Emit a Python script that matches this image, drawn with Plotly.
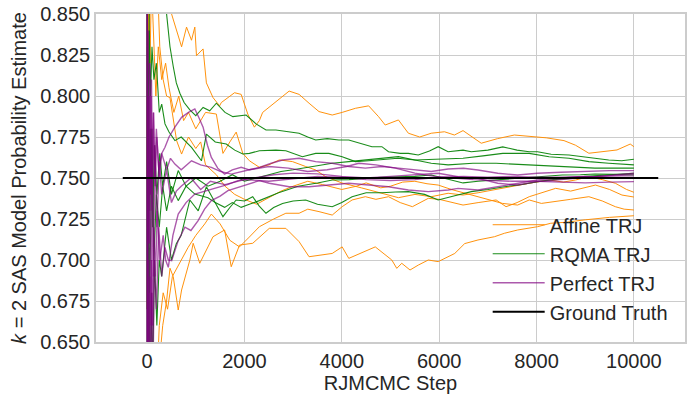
import plotly.graph_objects as go

# ---------------- data ----------------
# Affine TRJ runs
affine_1_steps = [1, 4, 10, 20, 40, 70, 100, 150, 200, 300, 400, 500, 606, 708, 810, 912, 980, 1014, 1150, 1218, 1354, 1490, 1524, 1796, 1932, 2068, 2204, 2306, 2374, 2578, 2918, 3122, 3258, 3327, 3531, 3803, 4007, 4279, 4551, 4755, 4891, 5163, 5367, 5600, 5837, 6109, 6313, 6490, 6864, 7200, 7544, 7884, 8200, 8564, 8800, 9075, 9350, 9653, 9925, 10000]
affine_1_vals = [1.0, 0.75, 0.9, 0.95, 0.875, 0.914, 0.88, 0.9, 0.87, 0.885, 0.86, 0.85, 0.841, 0.830, 0.842, 0.834, 0.842, 0.8246, 0.8287, 0.808, 0.799, 0.794, 0.796, 0.802, 0.801, 0.789, 0.781, 0.785, 0.790, 0.795, 0.803, 0.801, 0.797, 0.7956, 0.7905, 0.7884, 0.790, 0.7925, 0.794, 0.7874, 0.7823, 0.7854, 0.7773, 0.775, 0.7773, 0.7782, 0.7762, 0.7789, 0.7712, 0.774, 0.7762, 0.7752, 0.7745, 0.7728, 0.770, 0.7651, 0.766, 0.7671, 0.7707, 0.7691]

affine_2_steps = [1, 4, 9, 18, 35, 60, 90, 130, 180, 230, 300, 380, 450, 550, 650, 750, 850, 1000, 1200, 1422, 1558, 1700, 1830, 1966, 2102, 2306, 2500, 2714, 2986, 3258, 3463, 3667, 4000, 4400, 4800, 5163, 5503, 5837, 6184, 6490, 6800, 7102, 7500, 7850, 8258, 8550, 8803, 9075, 9350, 9619, 9850, 10000]
affine_2_vals = [0.0, 0.5, 0.78, 0.72, 0.86, 0.82, 0.87, 0.84, 0.80, 0.83, 0.81, 0.82, 0.805, 0.79, 0.80, 0.785, 0.79, 0.78, 0.79, 0.789, 0.765, 0.772, 0.778, 0.765, 0.7605, 0.7565, 0.758, 0.761, 0.760, 0.757, 0.7549, 0.7508, 0.747, 0.744, 0.741, 0.738, 0.740, 0.7386, 0.7407, 0.7396, 0.741, 0.7427, 0.745, 0.7468, 0.7488, 0.7475, 0.7488, 0.7508, 0.749, 0.7468, 0.743, 0.7413]

affine_3_steps = [1, 4, 10, 20, 35, 60, 90, 130, 180, 250, 330, 420, 520, 700, 843, 1000, 1184, 1320, 1500, 1700, 1898, 2100, 2306, 2600, 2850, 3122, 3300, 3531, 3803, 4007, 4211, 4483, 4700, 4959, 5200, 5450, 5776, 6000, 6250, 6490, 6800, 7170, 7374, 7600, 7850, 8100, 8394, 8700, 8939, 9211, 9500, 9755, 10000]
affine_3_vals = [0.0, 0.25, 0.4, 0.55, 0.5, 0.6, 0.58, 0.63, 0.61, 0.66, 0.68, 0.67, 0.69, 0.70, 0.7077, 0.715, 0.722, 0.728, 0.722, 0.712, 0.708, 0.714, 0.7203, 0.725, 0.7285, 0.7285, 0.731, 0.7295, 0.7274, 0.7325, 0.7366, 0.7386, 0.737, 0.7386, 0.735, 0.7325, 0.7376, 0.737, 0.735, 0.7335, 0.735, 0.7366, 0.7325, 0.735, 0.7386, 0.741, 0.7437, 0.742, 0.7437, 0.7457, 0.743, 0.7396, 0.7384]

affine_4_steps = [1, 3, 8, 15, 30, 50, 80, 110, 150, 200, 260, 330, 400, 469, 606, 708, 850, 1000, 1100, 1200, 1422, 1600, 1800, 2000, 2250, 2500, 2750, 3000, 3300, 3600, 4000, 4300, 4500, 4800, 5000, 5250, 5500, 5750, 5980, 6250, 6500, 6750, 7000, 7300, 7612, 7850, 8100, 8394, 8700, 9075, 9350, 9619, 9800, 10000]
affine_4_vals = [1.0, 0.67, 0.88, 0.8, 0.9, 0.86, 0.95, 0.9, 0.86, 0.88, 0.83, 0.81, 0.80, 0.799, 0.7728, 0.7646, 0.775, 0.768, 0.772, 0.758, 0.752, 0.745, 0.740, 0.737, 0.734, 0.738, 0.742, 0.745, 0.748, 0.746, 0.743, 0.745, 0.747, 0.744, 0.745, 0.7475, 0.748, 0.7465, 0.7457, 0.743, 0.741, 0.739, 0.737, 0.7345, 0.7335, 0.7366, 0.7345, 0.7355, 0.737, 0.7386, 0.736, 0.7325, 0.731, 0.7305]

affine_5_steps = [1, 3, 7, 15, 30, 50, 80, 110, 150, 200, 260, 320, 400, 470, 537, 639, 708, 878, 946, 1082, 1354, 1592, 1728, 1898, 2170, 2510, 2850, 3122, 3327, 3803, 4007, 4143, 4551, 4687, 5027, 5129, 5231, 5401, 5571, 5776, 5980, 6116, 6320, 6524, 6796, 7136, 7340, 7612, 8020, 8292, 8600, 9000, 9500, 10000]
affine_5_vals = [0.0, 0.33, 0.14, 0.4, 0.45, 0.5, 0.58, 0.55, 0.6, 0.62, 0.64, 0.66, 0.675, 0.695, 0.6898, 0.6695, 0.6817, 0.700, 0.7102, 0.698, 0.7142, 0.7183, 0.6959, 0.7091, 0.7102, 0.7193, 0.7193, 0.7112, 0.702, 0.704, 0.708, 0.701, 0.706, 0.708, 0.700, 0.6949, 0.698, 0.6939, 0.6969, 0.700, 0.699, 0.701, 0.704, 0.710, 0.7122, 0.7142, 0.7163, 0.7183, 0.7203, 0.7224, 0.723, 0.7245, 0.726, 0.727]

# RQMA TRJ runs
rqma_1_steps = [1, 3, 8, 15, 30, 60, 100, 150, 200, 260, 330, 400, 470, 537, 600, 673, 760, 878, 1000, 1150, 1286, 1422, 1600, 1762, 2034, 2238, 2442, 2646, 2900, 3122, 3300, 3463, 3700, 3939, 4143, 4400, 4619, 4823, 4959, 5200, 5367, 5571, 5800, 5980, 6184, 6490, 6660, 7000, 7306, 7600, 7850, 8020, 8300, 8667, 9075, 9483, 9750, 10000]
rqma_1_vals = [1.0, 0.67, 0.875, 0.93, 0.9, 0.92, 0.89, 0.9, 0.88, 0.87, 0.86, 0.85, 0.83, 0.818, 0.808, 0.8017, 0.796, 0.7915, 0.788, 0.793, 0.791, 0.7956, 0.790, 0.7874, 0.7884, 0.783, 0.7793, 0.7793, 0.778, 0.7773, 0.775, 0.7732, 0.774, 0.7732, 0.7732, 0.771, 0.7691, 0.7691, 0.766, 0.765, 0.765, 0.764, 0.7665, 0.7691, 0.766, 0.767, 0.766, 0.767, 0.769, 0.767, 0.766, 0.766, 0.7645, 0.764, 0.7625, 0.761, 0.7605, 0.7614]

rqma_2_steps = [1, 3, 6, 12, 25, 45, 70, 100, 140, 190, 250, 300, 367, 450, 571, 700, 912, 1116, 1218, 1400, 1626, 1800, 1966, 2102, 2306, 2646, 2850, 3190, 3463, 3735, 4007, 4279, 4550, 4823, 5150, 5503, 5850, 6184, 6490, 6900, 7306, 7850, 8258, 8667, 9075, 9483, 9750, 10000]
rqma_2_vals = [0.0, 0.33, 0.5, 0.67, 0.8, 0.84, 0.8, 0.83, 0.81, 0.82, 0.79, 0.795, 0.783, 0.778, 0.7728, 0.775, 0.7687, 0.7605, 0.7768, 0.772, 0.7707, 0.767, 0.7646, 0.765, 0.7666, 0.767, 0.7666, 0.763, 0.765, 0.765, 0.763, 0.760, 0.7605, 0.761, 0.762, 0.761, 0.7615, 0.762, 0.762, 0.7635, 0.765, 0.765, 0.763, 0.762, 0.760, 0.759, 0.7585, 0.758]

rqma_3_steps = [1, 2, 4, 7, 12, 20, 35, 55, 80, 110, 150, 200, 260, 320, 400, 500, 639, 800, 1000, 1250, 1500, 1750, 2000, 2250, 2500, 2750, 3000, 3400, 3803, 4143, 4483, 4823, 5163, 5503, 5837, 6184, 6694, 7170, 7850, 8530, 9200, 10000]
rqma_3_vals = [1.0, 0.5, 0.75, 0.57, 0.75, 0.7, 0.8, 0.73, 0.78, 0.72, 0.77, 0.74, 0.765, 0.745, 0.76, 0.74, 0.7545, 0.745, 0.75, 0.745, 0.748, 0.752, 0.748, 0.75, 0.752, 0.754, 0.755, 0.757, 0.759, 0.760, 0.761, 0.762, 0.763, 0.761, 0.759, 0.758, 0.759, 0.759, 0.758, 0.757, 0.756, 0.756]

rqma_4_steps = [1, 3, 6, 10, 18, 30, 50, 75, 100, 140, 190, 250, 320, 400, 500, 639, 800, 980, 1250, 1400, 1592, 1750, 1932, 2100, 2306, 2700, 3100, 3500, 3803, 4150, 4483, 4800, 5163, 5500, 5837, 6100, 6490, 6800, 7170, 7500, 7850, 8200, 8530, 8900, 9200, 9600, 10000]
rqma_4_vals = [0.0, 0.67, 0.83, 0.7, 0.61, 0.77, 0.68, 0.72, 0.78, 0.7, 0.74, 0.72, 0.745, 0.73, 0.745, 0.7362, 0.745, 0.7402, 0.738, 0.735, 0.7321, 0.735, 0.7321, 0.734, 0.7362, 0.741, 0.745, 0.747, 0.7488, 0.749, 0.7498, 0.7505, 0.7508, 0.751, 0.7518, 0.750, 0.747, 0.748, 0.7488, 0.7495, 0.7504, 0.751, 0.7518, 0.752, 0.7524, 0.7522, 0.7518]

rqma_5_steps = [1, 2, 4, 8, 14, 25, 40, 60, 85, 115, 150, 200, 250, 300, 400, 500, 600, 700, 878, 1050, 1218, 1400, 1558, 1700, 1830, 2000, 2170, 2300, 2442, 2600, 2782, 3000, 3258, 3500, 3803, 4000, 4211, 4500, 4823, 5100, 5367, 5700, 5980, 6300, 6660, 7000, 7340, 7700, 8020, 8350, 8700, 9000, 9380, 9700, 10000]
rqma_5_vals = [0.0, 0.5, 0.25, 0.5, 0.64, 0.56, 0.7, 0.6, 0.68, 0.63, 0.7, 0.66, 0.7, 0.69, 0.72, 0.70, 0.71, 0.715, 0.7366, 0.73, 0.7447, 0.735, 0.7264, 0.732, 0.7366, 0.736, 0.7386, 0.733, 0.7285, 0.732, 0.7345, 0.736, 0.7366, 0.734, 0.7325, 0.735, 0.7386, 0.741, 0.741, 0.7415, 0.7417, 0.740, 0.7366, 0.739, 0.7417, 0.743, 0.7447, 0.746, 0.7478, 0.749, 0.7498, 0.751, 0.7518, 0.7522, 0.7529]

# Perfect TRJ runs
perfect_1_steps = [1, 2, 3, 5, 8, 12, 18, 25, 35, 50, 65, 80, 100, 125, 150, 190, 240, 300, 367, 450, 571, 708, 850, 980, 1060, 1150, 1240, 1320, 1450, 1592, 1750, 1932, 2100, 2306, 2550, 2782, 3122, 3463, 3803, 4143, 4483, 4823, 5163, 5503, 5837, 6184, 6500, 6796, 7204, 7612, 8020, 8500, 9000, 9500, 10000]
perfect_1_vals = [1.0, 0.5, 0.67, 0.8, 0.62, 0.83, 0.72, 0.84, 0.71, 0.82, 0.74, 0.8, 0.73, 0.79, 0.75, 0.78, 0.755, 0.765, 0.7687, 0.775, 0.781, 0.787, 0.79, 0.7921, 0.787, 0.781, 0.77, 0.7626, 0.756, 0.7524, 0.755, 0.7565, 0.755, 0.7565, 0.759, 0.761, 0.762, 0.760, 0.759, 0.757, 0.756, 0.757, 0.756, 0.755, 0.754, 0.7555, 0.7559, 0.7549, 0.7529, 0.7518, 0.7529, 0.7535, 0.754, 0.7545, 0.7545]

perfect_2_steps = [1, 2, 3, 5, 8, 12, 18, 25, 35, 50, 65, 80, 100, 125, 150, 190, 240, 300, 367, 435, 504, 570, 639, 776, 900, 1048, 1180, 1320, 1500, 1660, 1850, 2068, 2306, 2510, 2918, 3327, 3735, 4143, 4551, 4959, 5367, 5776, 6184, 6388, 6796, 7204, 7612, 8020, 8428, 8837, 9245, 9653, 10000]
perfect_2_vals = [0.0, 0.5, 0.33, 0.2, 0.5, 0.33, 0.56, 0.44, 0.6, 0.52, 0.65, 0.6, 0.68, 0.64, 0.7, 0.67, 0.72, 0.69, 0.7077, 0.70, 0.6996, 0.706, 0.7118, 0.72, 0.718, 0.724, 0.731, 0.7362, 0.739, 0.7423, 0.744, 0.7463, 0.7484, 0.7468, 0.7447, 0.7447, 0.7457, 0.7468, 0.7457, 0.7447, 0.7427, 0.7417, 0.7427, 0.7437, 0.7427, 0.7447, 0.7468, 0.7488, 0.7498, 0.7508, 0.751, 0.7515, 0.752]

perfect_3_steps = [1, 2, 3, 4, 6, 9, 14, 20, 28, 40, 55, 70, 90, 115, 140, 170, 210, 260, 330, 380, 435, 530, 639, 800, 980, 1200, 1456, 1650, 1864, 2200, 2600, 3000, 3500, 4000, 4500, 5000, 5500, 5980, 6388, 6796, 7204, 7612, 8020, 8428, 8837, 9245, 9653, 10000]
perfect_3_vals = [1.0, 1.0, 0.67, 0.5, 0.67, 0.44, 0.64, 0.5, 0.68, 0.58, 0.69, 0.63, 0.7, 0.66, 0.72, 0.69, 0.73, 0.70, 0.715, 0.70, 0.6955, 0.715, 0.728, 0.735, 0.7402, 0.742, 0.7443, 0.746, 0.7484, 0.750, 0.752, 0.753, 0.7525, 0.751, 0.750, 0.751, 0.752, 0.7529, 0.7508, 0.7498, 0.7468, 0.7457, 0.7478, 0.7488, 0.7498, 0.7508, 0.7518, 0.7529]

perfect_4_steps = [1, 2, 3, 5, 7, 10, 15, 22, 30, 42, 56, 72, 90, 110, 135, 165, 200, 250, 300, 400, 480, 571, 700, 912, 1100, 1320, 1500, 1728, 2100, 2500, 2900, 3300, 3700, 4100, 4350, 4700, 5100, 5500, 5900, 6300, 6700, 7100, 7500, 8000, 8500, 9000, 9500, 10000]
perfect_4_vals = [0.0, 0.0, 0.33, 0.6, 0.71, 0.6, 0.8, 0.68, 0.8, 0.71, 0.82, 0.74, 0.81, 0.75, 0.79, 0.745, 0.775, 0.75, 0.765, 0.755, 0.762, 0.7585, 0.755, 0.7605, 0.758, 0.7565, 0.754, 0.7524, 0.755, 0.757, 0.756, 0.754, 0.755, 0.757, 0.759, 0.758, 0.756, 0.753, 0.751, 0.750, 0.749, 0.7485, 0.748, 0.748, 0.7475, 0.747, 0.7475, 0.7478]

perfect_5_steps = [1, 2, 3, 4, 6, 9, 13, 19, 27, 37, 50, 65, 85, 105, 130, 160, 200, 250, 300, 400, 500, 600, 700, 900, 1100, 1300, 1600, 2000, 2500, 3000, 3500, 4000, 4500, 5000, 5500, 6000, 6500, 7000, 7500, 8000, 8500, 9000, 9500, 10000]
perfect_5_vals = [1.0, 0.5, 0.33, 0.25, 0.5, 0.67, 0.46, 0.63, 0.52, 0.7, 0.62, 0.78, 0.66, 0.76, 0.69, 0.77, 0.72, 0.76, 0.74, 0.755, 0.735, 0.742, 0.745, 0.75, 0.743, 0.748, 0.746, 0.749, 0.748, 0.7495, 0.751, 0.7505, 0.749, 0.7485, 0.749, 0.7505, 0.751, 0.7505, 0.751, 0.7505, 0.7505, 0.751, 0.7505, 0.7505]

# Ground truth
truth_steps = [-500, 10500]
truth_vals = [0.75, 0.75]

x_ticks = [0, 2000, 4000, 6000, 8000, 10000]
y_ticks = [0.650, 0.675, 0.700, 0.725, 0.750, 0.775, 0.800, 0.825, 0.850]

# ---------------- figure ----------------
groups = [
    ("Affine TRJ", "rgba(255,140,0,0.95)", 1.0,
     [(affine_1_steps, affine_1_vals), (affine_2_steps, affine_2_vals), (affine_3_steps, affine_3_vals),
      (affine_4_steps, affine_4_vals), (affine_5_steps, affine_5_vals)]),
    ("RQMA TRJ", "rgba(0,128,0,0.9)", 1.1,
     [(rqma_1_steps, rqma_1_vals), (rqma_2_steps, rqma_2_vals), (rqma_3_steps, rqma_3_vals),
      (rqma_4_steps, rqma_4_vals), (rqma_5_steps, rqma_5_vals)]),
    ("Perfect TRJ", "rgba(128,0,128,0.65)", 1.4,
     [(perfect_1_steps, perfect_1_vals), (perfect_2_steps, perfect_2_vals), (perfect_3_steps, perfect_3_vals),
      (perfect_4_steps, perfect_4_vals), (perfect_5_steps, perfect_5_vals)]),
]

fig = go.Figure()
for name, color, width, runs in groups:
    for i, (xs, ys) in enumerate(runs):
        fig.add_trace(go.Scatter(
            x=xs, y=ys, mode="lines", name=name, legendgroup=name,
            showlegend=(i == 0), line=dict(color=color, width=width),
            hoverinfo="skip"))

fig.add_trace(go.Scatter(
    x=truth_steps, y=truth_vals, mode="lines", name="Ground Truth",
    line=dict(color="black", width=2), hoverinfo="skip"))

font_family = "Liberation Sans, Arial, sans-serif"
fig.update_layout(
    width=688, height=394,
    margin=dict(l=96, r=1, t=14, b=52),
    paper_bgcolor="white", plot_bgcolor="white",
    font=dict(family=font_family, size=20, color="#262626"),
    showlegend=True,
    legend=dict(x=0.665, y=0.417, xanchor="left", yanchor="top",
                bgcolor="rgba(0,0,0,0)", borderwidth=0,
                font=dict(size=20, color="#262626"),
                itemwidth=52, tracegroupgap=0),
    xaxis=dict(range=[-1050, 11050], tickvals=x_ticks, ticktext=[str(v) for v in x_ticks],
               showgrid=True, gridcolor="#cccccc", gridwidth=1,
               showline=True, linecolor="#cccccc", linewidth=1.5, mirror=True,
               zeroline=False, ticks="",
               title=dict(text="RJMCMC Step", font=dict(size=20), standoff=6)),
    yaxis=dict(range=[0.65, 0.85], tickvals=y_ticks, ticktext=["%.3f" % v for v in y_ticks],
               showgrid=True, gridcolor="#cccccc", gridwidth=1,
               showline=True, linecolor="#cccccc", linewidth=1.5, mirror=True,
               zeroline=False, ticks="",
               title=dict(text="<i>k</i> = 2 SAS Model Probability Estimate", font=dict(size=20), standoff=8)),
)

fig.write_html("out.html")
